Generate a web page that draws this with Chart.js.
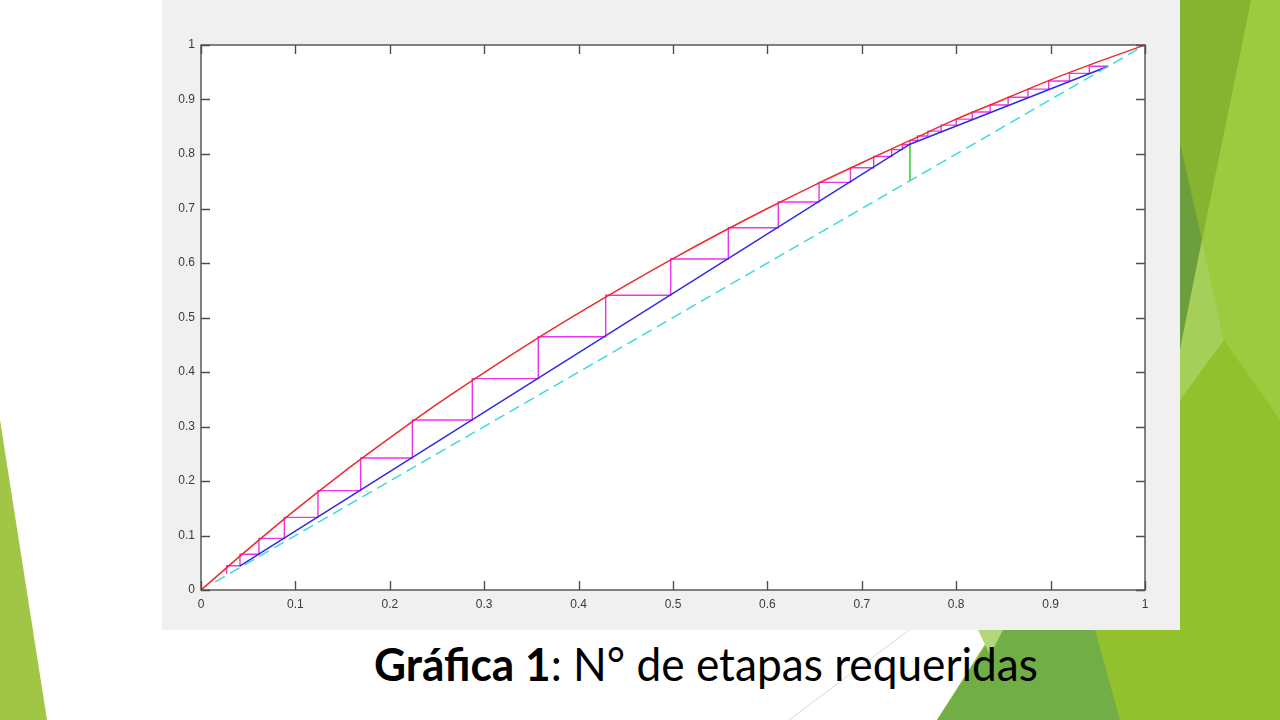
<!DOCTYPE html>
<html>
<head>
<meta charset="utf-8">
<script src="https://cdn.jsdelivr.net/npm/chart.js@4.4.1/dist/chart.umd.min.js"></script>
<style>
  html,body{margin:0;padding:0;background:#ffffff;}
  body{width:1280px;height:720px;position:relative;overflow:hidden;}
  #deco{position:absolute;left:0;top:0;}
  #panel{position:absolute;left:162px;top:0;width:1018px;height:630px;background:#f0f0f0;}
  #caption{position:absolute;left:374px;top:641px;font-family:Lato,"Open Sans",sans-serif;font-size:46px;line-height:1;color:#000;white-space:nowrap;transform-origin:0 0;}
  #caption b{font-weight:700;}
</style>
</head>
<body>
<svg id="deco" width="1280" height="720" xmlns="http://www.w3.org/2000/svg">
  <polygon points="0,420 47,720 0,720" fill="#a1c646"/>
  <polygon points="1180,0 1280,0 1280,720 937,720 994,630 1180,630" fill="#93c12e"/>
  <polygon points="1251,0 1280,0 1280,420 1224,340 1202,240" fill="#9ccb3f"/>
  <polygon points="1180,0 1251,0 1202,240 1180,143" fill="#87b430"/>
  <polygon points="1180,143 1202,240 1180,350" fill="#6b9e3c"/>
  <polygon points="1202,240 1224,340 1180,400 1180,350" fill="#a6cf5a"/>
  <polygon points="996,630 1095,630 1120,720 937,720" fill="#72ae46"/>
  <polygon points="978,630 1003,630 990,655" fill="#b4d67a"/>
  <line x1="909" y1="630" x2="789" y2="720" stroke="#d9d9d9" stroke-width="1"/>
</svg>
<div id="panel"><canvas id="c" width="1018" height="630"></canvas></div>
<div id="caption"><b>Gráfica 1</b>: N° de etapas requeridas</div>
<script>
// ---- data ----
const eqX = [0,0.05,0.1,0.15,0.2,0.25,0.3,0.35,0.4,0.45,0.5,0.55,0.6,0.65,0.7,0.75,0.8,0.85,0.9,0.95,1];
const eqY = [0,0.075,0.147,0.215,0.279,0.341,0.399,0.455,0.508,0.559,0.608,0.655,0.700,0.743,0.784,0.824,0.864,0.900,0.936,0.969,1];
const opX = [0.041,0.751,0.961];
const opY = [0.044,0.818,0.961];
const feedX = [0.751,0.751];
const feedY = [0.751,0.818];
const diagX = [0.015,1];
const diagY = [0.015,1];
const xD = 0.961;
const stepX = [0.941,0.920,0.898,0.876,0.855,0.836,0.817,0.800,0.784,0.770,0.759,0.751,0.743,0.7316,0.7126,0.688,0.6547,0.6115,0.5586,0.4976,0.4287,0.3573,0.2874,0.2239,0.1691,0.1239,0.0883,0.0614,0.0413,0.0272];
const stepY = [0.948,0.934,0.919,0.904,0.890,0.877,0.864,0.853,0.842,0.833,0.825,0.817,0.808,0.7955,0.7748,0.748,0.7119,0.6648,0.6073,0.5407,0.4648,0.3878,0.3119,0.2422,0.1823,0.1333,0.0948,0.0655,0.0446,0.030];
const tickVals = [0,0.1,0.2,0.3,0.4,0.5,0.6,0.7,0.8,0.9,1];

const pts = (xs, ys) => xs.map((v,i)=>({x:v,y:ys[i]}));
const stairs = [{x:xD,y:xD}];
stepX.forEach((sx,k)=>{
  stairs.push({x:sx, y: k===0 ? xD : stepY[k-1]});
  stairs.push({x:sx, y: stepY[k]});
});

const matlabAxes = {
  id:'matlabAxes',
  beforeDraw(chart){
    const {ctx, chartArea:a} = chart;
    ctx.save(); ctx.fillStyle='#ffffff';
    ctx.fillRect(a.left,a.top,a.right-a.left,a.bottom-a.top); ctx.restore();
  },
  afterDraw(chart){
    const {ctx, chartArea:a, scales:{x,y}} = chart;
    ctx.save();
    ctx.strokeStyle='#4f4f4f'; ctx.lineWidth=1.4;
    ctx.strokeRect(a.left, a.top, a.right-a.left, a.bottom-a.top);
    const L=9;
    ctx.beginPath();
    x.ticks.forEach((t,i)=>{const p=Math.round(x.getPixelForTick(i))+0.5;
      ctx.moveTo(p,a.bottom);ctx.lineTo(p,a.bottom-L);ctx.moveTo(p,a.top);ctx.lineTo(p,a.top+L);});
    y.ticks.forEach((t,i)=>{const p=Math.round(y.getPixelForTick(i))+0.5;
      ctx.moveTo(a.left,p);ctx.lineTo(a.left+L,p);ctx.moveTo(a.right,p);ctx.lineTo(a.right-L,p);});
    ctx.stroke();
    ctx.restore();
  }
};

const line = (data,color,extra) => Object.assign({data, borderColor:color, borderWidth:1.5, showLine:true, pointRadius:0, fill:false}, extra||{});
const tickFont = {family:'"Liberation Sans", Arial, sans-serif',size:12};

new Chart(document.getElementById('c'), {
  type:'scatter',
  data:{datasets:[
    line(pts(eqX,eqY),'#ee2a2a',{tension:0.4,cubicInterpolationMode:'monotone'}),
    line(pts(diagX,diagY),'#3adada',{borderDash:[11,6]}),
    line(pts(opX,opY),'#2b2be6'),
    line(pts(feedX,feedY),'#33cc33'),
    line(stairs,'#ee33ee',{borderWidth:1.4})
  ]},
  options:{
    responsive:false, animation:false, devicePixelRatio:1,
    layout:{padding:{top:45,right:35,left:0,bottom:0}},
    plugins:{legend:{display:false},tooltip:{enabled:false}},
    scales:{
      x:{type:'linear',min:0,max:1,
        afterBuildTicks:s=>{s.ticks=tickVals.map(v=>({value:v}));},
        afterFit:s=>{s.height=40;},
        grid:{display:false,drawTicks:false}, border:{display:false},
        ticks:{padding:7,color:'#3a3a3a',font:tickFont,maxRotation:0,autoSkip:false,
          callback:v=>String(Math.round(v*10)/10)}},
      y:{type:'linear',min:0,max:1,
        afterBuildTicks:s=>{s.ticks=tickVals.map(v=>({value:v}));},
        afterFit:s=>{s.width=39;},
        grid:{display:false,drawTicks:false}, border:{display:false},
        ticks:{padding:6,color:'#3a3a3a',font:tickFont,autoSkip:false,
          callback:v=>String(Math.round(v*10)/10)}}
    }
  },
  plugins:[matlabAxes]
});

function fitCaption(){
  const el=document.getElementById('caption');
  el.style.transform='none';
  const w=el.getBoundingClientRect().width;
  el.style.transform='scaleX('+(664/w)+')';
}
if(document.fonts && document.fonts.ready){document.fonts.ready.then(fitCaption);} fitCaption();
</script>
</body>
</html>
